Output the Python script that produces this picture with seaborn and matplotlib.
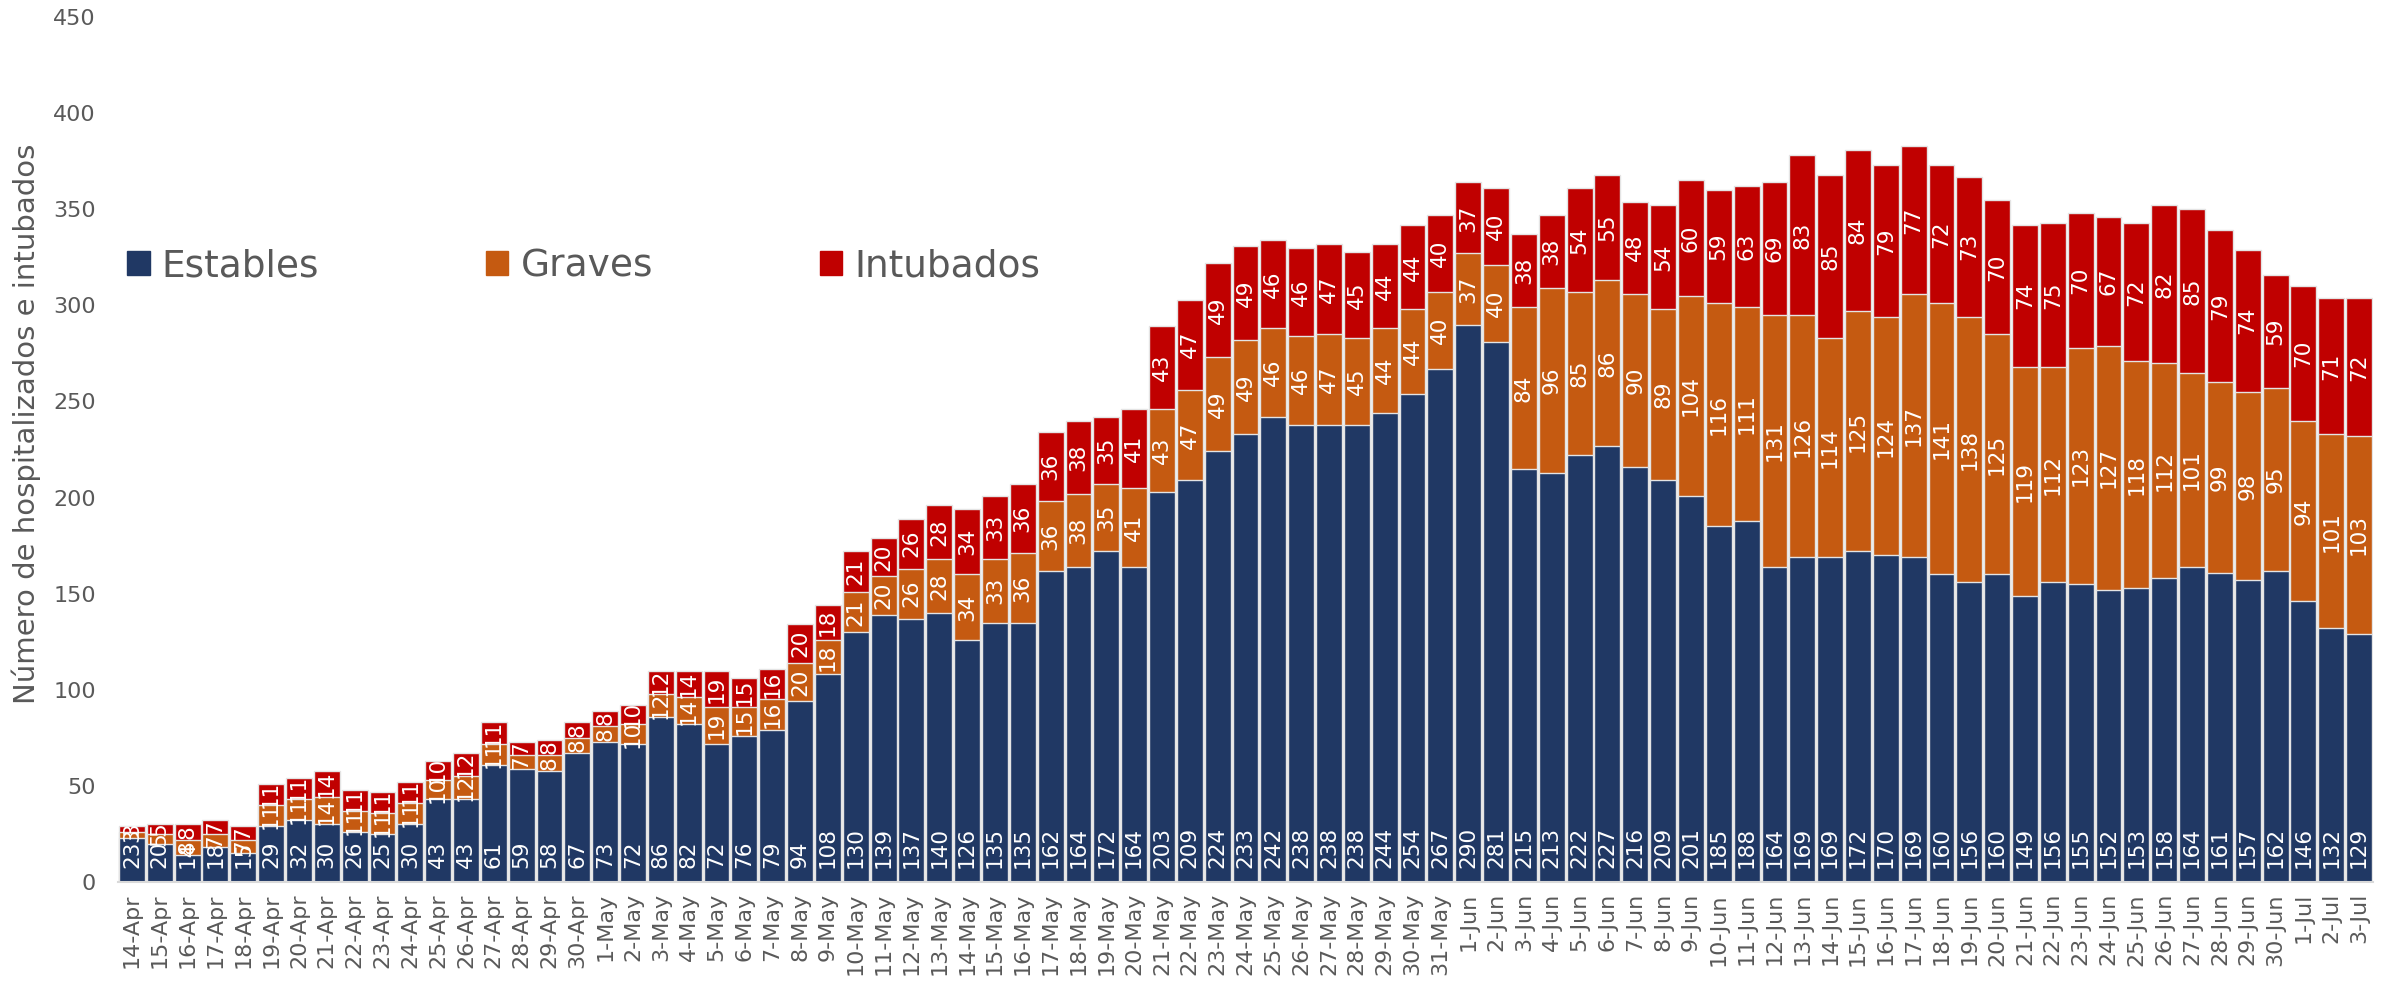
import pandas as pd
import seaborn as sns
import matplotlib
matplotlib.use('Agg')
import matplotlib.pyplot as plt
from matplotlib.patches import Patch

fechas = ['14-Apr', '15-Apr', '16-Apr', '17-Apr', '18-Apr', '19-Apr', '20-Apr', '21-Apr', '22-Apr',
          '23-Apr', '24-Apr', '25-Apr', '26-Apr', '27-Apr', '28-Apr', '29-Apr', '30-Apr',
          '1-May', '2-May', '3-May', '4-May', '5-May', '6-May', '7-May', '8-May', '9-May', '10-May',
          '11-May', '12-May', '13-May', '14-May', '15-May', '16-May', '17-May', '18-May', '19-May',
          '20-May', '21-May', '22-May', '23-May', '24-May', '25-May', '26-May', '27-May', '28-May',
          '29-May', '30-May', '31-May',
          '1-Jun', '2-Jun', '3-Jun', '4-Jun', '5-Jun', '6-Jun', '7-Jun', '8-Jun', '9-Jun', '10-Jun',
          '11-Jun', '12-Jun', '13-Jun', '14-Jun', '15-Jun', '16-Jun', '17-Jun', '18-Jun', '19-Jun',
          '20-Jun', '21-Jun', '22-Jun', '23-Jun', '24-Jun', '25-Jun', '26-Jun', '27-Jun', '28-Jun',
          '29-Jun', '30-Jun',
          '1-Jul', '2-Jul', '3-Jul']

estables = [23, 20, 14, 18, 15, 29, 32, 30, 26, 25, 30, 43, 43, 61, 59, 58, 67,
            73, 72, 86, 82, 72, 76, 79, 94, 108, 130, 139, 137, 140, 126, 135, 135, 162, 164, 172,
            164, 203, 209, 224, 233, 242, 238, 238, 238, 244, 254, 267,
            290, 281, 215, 213, 222, 227, 216, 209, 201, 185, 188, 164, 169, 169, 172, 170, 169,
            160, 156, 160, 149, 156, 155, 152, 153, 158, 164, 161, 157, 162,
            146, 132, 129]

graves = [3, 5, 8, 7, 7, 11, 11, 14, 11, 11, 11, 10, 12, 11, 7, 8, 8,
          8, 10, 12, 14, 19, 15, 16, 20, 18, 21, 20, 26, 28, 34, 33, 36, 36, 38, 35,
          41, 43, 47, 49, 49, 46, 46, 47, 45, 44, 44, 40,
          37, 40, 84, 96, 85, 86, 90, 89, 104, 116, 111, 131, 126, 114, 125, 124, 137,
          141, 138, 125, 119, 112, 123, 127, 118, 112, 101, 99, 98, 95,
          94, 101, 103]

intubados = [3, 5, 8, 7, 7, 11, 11, 14, 11, 11, 11, 10, 12, 11, 7, 8, 8,
             8, 10, 12, 14, 19, 15, 16, 20, 18, 21, 20, 26, 28, 34, 33, 36, 36, 38, 35,
             41, 43, 47, 49, 49, 46, 46, 47, 45, 44, 44, 40,
             37, 40, 38, 38, 54, 55, 48, 54, 60, 59, 63, 69, 83, 85, 84, 79, 77,
             72, 73, 70, 74, 75, 70, 67, 72, 82, 85, 79, 74, 59,
             70, 71, 72]

c_est = '#203864'
c_gra = '#C55A11'
c_int = '#C00000'
gris = '#595959'

sns.set_style('white')
plt.rcParams['font.family'] = ['DejaVu Sans']

df = pd.DataFrame({'fecha': fechas, 'estables': estables,
                   'graves': graves, 'intubados': intubados})
df['est_gra'] = df['estables'] + df['graves']
df['total'] = df['est_gra'] + df['intubados']

fig = plt.figure(figsize=(23.87, 9.83), dpi=100)
ax = fig.add_axes([118 / 2387, 101 / 983, (2373 - 118) / 2387, 865 / 983])

# stacked bars drawn as layers: total, estables+graves, estables
kw = dict(x='fecha', width=0.93, saturation=1, edgecolor='#E4E4E4',
          linewidth=1, errorbar=None, ax=ax)
sns.barplot(data=df, y='total', color=c_int, **kw)
sns.barplot(data=df, y='est_gra', color=c_gra, **kw)
sns.barplot(data=df, y='estables', color=c_est, **kw)

lblsize = 15.5
for i, r in df.iterrows():
    ax.annotate(str(r['estables']), xy=(i, 0), xytext=(0, 10), textcoords='offset points',
                ha='center', va='bottom', rotation=90, color='white', fontsize=lblsize)
    ax.text(i, r['estables'] + r['graves'] / 2, str(r['graves']), ha='center', va='center',
            rotation=90, color='white', fontsize=lblsize)
    ax.text(i, r['est_gra'] + r['intubados'] / 2, str(r['intubados']), ha='center', va='center',
            rotation=90, color='white', fontsize=lblsize)

ax.set_xlim(-0.5, len(fechas) - 0.5)
ax.set_ylim(0, 450)
ax.set_yticks(range(0, 451, 50))
ax.tick_params(axis='y', length=0, pad=16, labelsize=16, labelcolor=gris)
ax.tick_params(axis='x', length=0, pad=8, labelsize=16, labelcolor=gris, labelrotation=90)
ax.set_xlabel('')
ax.set_ylabel('Número de hospitalizados e intubados', fontsize=21, color=gris)
ax.yaxis.set_label_coords(-0.034, 0.53)

for s in ['top', 'right', 'left']:
    ax.spines[s].set_visible(False)
ax.spines['bottom'].set_color('#D9D9D9')
ax.spines['bottom'].set_linewidth(1.5)

handles = [Patch(color=c_est, label='Estables'),
           Patch(color=c_gra, label='Graves'),
           Patch(color=c_int, label='Intubados')]
ax.legend(handles=handles, loc='center left', bbox_to_anchor=(0.004, 0.712), ncol=3,
          frameon=False, fontsize=27, labelcolor=gris, handlelength=0.6, handleheight=0.6,
          handletextpad=0.32, columnspacing=4.45, borderaxespad=0, borderpad=0)

fig.savefig('out.png', dpi=100)
